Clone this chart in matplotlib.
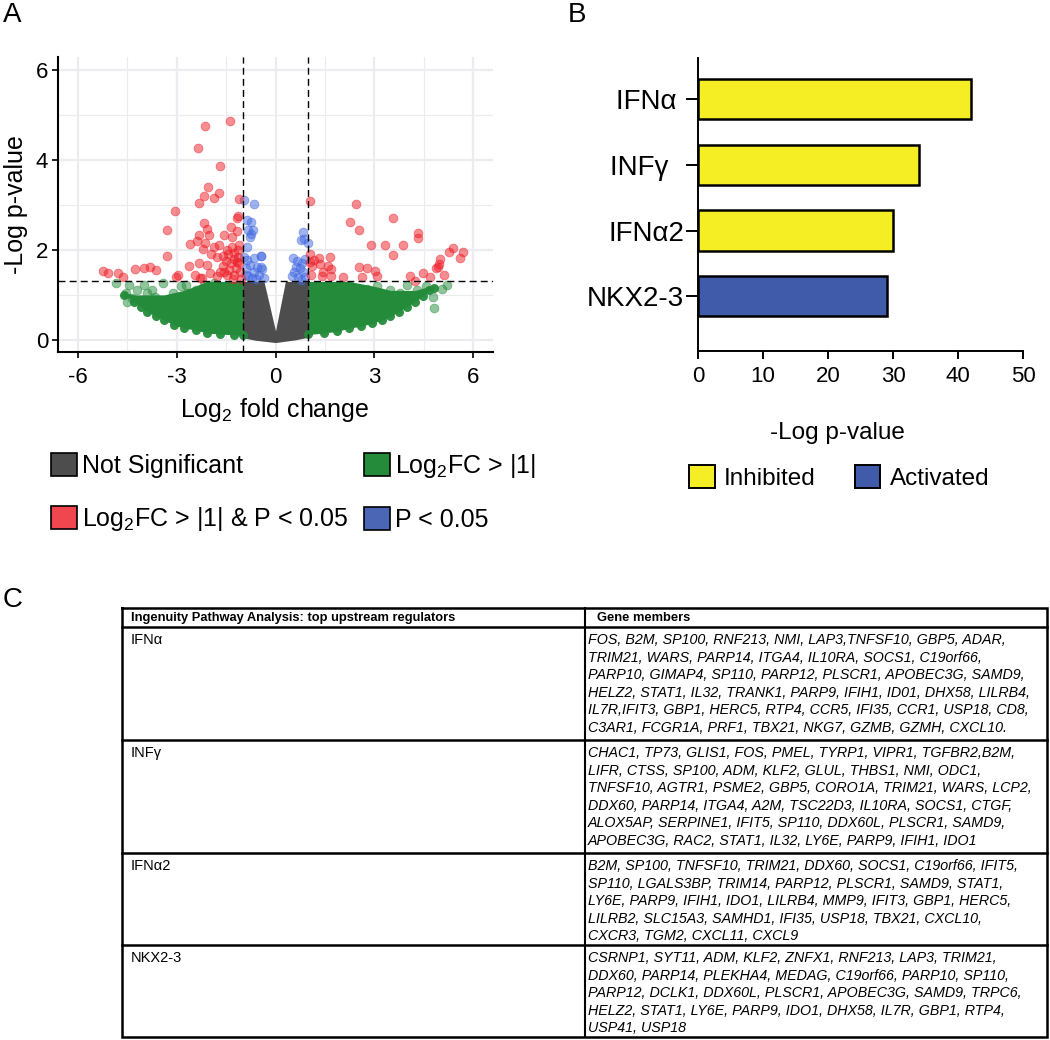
import numpy as np
import matplotlib.pyplot as plt
from matplotlib.patches import Patch

plt.rcParams['font.family'] = ['Liberation Sans', 'DejaVu Sans']
plt.rcParams['mathtext.fontset'] = 'custom'
plt.rcParams['mathtext.rm'] = 'Liberation Sans'
plt.rcParams['axes.unicode_minus'] = False

W, H = 1050, 1040

# ---- panel A: volcano plot ----
red_x = [-1.38, -2.13, -2.34, -1.67, -2.04, -1.70, -2.16, -1.88, -2.33, -1.10, -3.04, -1.15,
         -1.18, -2.17, -2.09, -3.28, -1.36, -2.31, -2.01, -1.55, -1.16, -1.31, -2.38, -2.58,
         -2.14, -1.86, -1.70, -1.10, -1.95, -1.59, -3.29, -2.19, -1.46, -1.26, -1.79, -2.63,
         -2.33, -2.07, -1.60, -1.36, -1.18, -5.23, -5.08, -4.78, -4.63, -4.26, -3.99, -3.82,
         -3.62, -2.97, -3.01, -2.45, -2.29, -2.00, -1.78, -1.46, -1.26, -1.08, -2.23, -1.67,
         -1.14, -1.31, -1.05, -1.20, -1.40, -1.10, -1.25, -1.45, -1.50, -1.15, -1.30, -1.55,
         1.04, 2.43, 2.25, 2.54, 3.58, 2.89, 3.32, 3.86, 3.58, 4.31, 4.31, 5.40, 5.27, 5.68,
         5.59, 5.00, 4.97, 4.94, 4.87, 5.12, 4.70, 4.49, 4.08, 4.23, 1.04, 1.04, 1.11, 1.31,
         1.36, 1.65, 1.60, 1.67, 1.44, 1.41, 1.69, 1.08, 2.05, 2.54, 2.79, 3.02, 3.08, 2.61,
         1.16]
red_y = [4.87, 4.76, 4.27, 3.86, 3.40, 3.26, 3.20, 3.16, 3.04, 3.13, 2.87, 2.76,
         2.70, 2.59, 2.46, 2.44, 2.52, 2.33, 2.33, 2.33, 2.41, 2.28, 2.19, 2.13,
         2.15, 2.07, 2.11, 2.11, 1.91, 1.87, 1.87, 2.01, 2.00, 1.93, 1.84, 1.65,
         1.70, 1.67, 1.65, 1.70, 1.74, 1.54, 1.48, 1.48, 1.39, 1.57, 1.59, 1.61,
         1.55, 1.44, 1.39, 1.44, 1.37, 1.48, 1.41, 1.44, 1.44, 1.52, 1.37, 1.52,
         1.85, 2.07, 1.35, 1.60, 1.55, 1.70, 1.80, 1.90, 1.75, 2.00, 1.35, 1.50,
         3.08, 3.02, 2.63, 2.45, 2.70, 2.10, 2.10, 2.10, 1.89, 2.37, 2.27, 2.04, 1.96, 1.96,
         1.82, 1.79, 1.69, 1.63, 1.59, 1.44, 1.39, 1.48, 1.42, 1.31, 1.91, 1.74, 1.64, 1.83,
         1.68, 1.85, 1.65, 1.57, 1.52, 1.42, 1.42, 1.44, 1.39, 1.63, 1.59, 1.54, 1.41, 1.39,
         1.78]

blue_x = [-0.96, -0.64, -0.86, -0.74, -0.84, -0.74, -0.78, -0.69, -0.86, -0.45, -0.66,
          -0.86, -0.78, -0.56, -0.40, -0.91, -0.66, -0.51, -0.84, -0.35, -0.71, -0.96,
          -0.45, -0.45, -0.60, -0.90,
          0.84, 0.78, 0.86, 0.99, 0.54, 0.66, 0.81, 0.88, 0.61, 0.74, 0.56, 0.84,
          0.51, 0.68, 0.91, 0.76]
blue_y = [3.11, 3.01, 2.67, 2.61, 2.44, 2.36, 2.28, 2.44, 2.07, 1.87, 1.81,
          1.78, 1.67, 1.63, 1.57, 1.59, 1.52, 1.44, 1.41, 1.37, 1.37, 1.85,
          1.87, 1.63, 1.35, 1.45,
          2.39, 2.21, 2.24, 2.16, 1.81, 1.76, 1.70, 1.79, 1.63, 1.59, 1.52, 1.52,
          1.41, 1.39, 1.39, 1.33]

# sparse green points on the fringe of the clouds
green_x = [-4.85, -4.55, -4.46, -4.52, -4.34, -4.19, -3.99, -3.89, -3.74, -3.67, -3.41,
           -3.10, -2.88, -2.73, -2.68, -2.42, -2.17, -1.87, -2.88, -3.28, -3.59,
           5.20, 5.05, 4.82, 4.77, 4.58, 4.29, 3.99, 3.77, 3.48, 3.08, 2.78, 2.58, 2.27, 1.97]
green_y = [1.26, 1.04, 1.21, 0.85, 0.93, 1.11, 1.22, 1.04, 1.11, 0.96, 1.26,
           1.05, 1.19, 1.22, 1.04, 1.11, 1.22, 1.26, 0.85, 0.81, 0.85,
           1.22, 1.13, 0.70, 0.96, 1.19, 1.11, 1.22, 1.04, 1.11, 1.19, 1.13, 1.04, 1.19, 1.22]

# dense green clouds: outline (lower / upper edge)
green_left_x = [-4.60, -4.29, -4.09, -3.89, -3.64, -3.38, -3.08, -2.78, -2.42, -2.07, -1.67, -1.26, -1.00]
green_left_lo = [1.00, 0.85, 0.74, 0.63, 0.52, 0.44, 0.33, 0.26, 0.22, 0.15, 0.13, 0.11, 0.11]
green_left_hi = [1.05, 1.00, 1.00, 1.00, 1.00, 1.00, 1.05, 1.10, 1.20, 1.30, 1.30, 1.30, 1.30]
green_right_x = [1.00, 1.46, 1.87, 2.22, 2.58, 2.93, 3.23, 3.48, 3.74, 3.99, 4.24, 4.49, 4.65, 4.80]
green_right_lo = [0.12, 0.15, 0.19, 0.26, 0.30, 0.37, 0.44, 0.52, 0.63, 0.74, 0.85, 0.98, 1.10, 1.15]
green_right_hi = [1.30, 1.30, 1.30, 1.30, 1.25, 1.20, 1.15, 1.10, 1.10, 1.10, 1.10, 1.15, 1.18, 1.18]

# not significant block
grey_x = [-1.00, -0.60, -0.35, 0.00, 0.30, 0.60, 1.00]
grey_lo = [0.05, -0.01, -0.03, -0.06, -0.03, 0.00, 0.06]
grey_hi = [1.30, 1.30, 1.30, 0.20, 1.30, 1.30, 1.30]

fc_cut = 1.0
p_cut = 1.3

# ---- panel B ----
regulators = ['IFNα', 'INFγ', 'IFNα2', 'NKX2-3']
neg_log_p = [42, 34, 30, 29]
state = ['Inhibited', 'Inhibited', 'Inhibited', 'Activated']

# ---- panel C ----
table_header = ['Ingenuity Pathway Analysis: top upstream regulators', 'Gene members']
table_regulators = ['IFNα', 'INFγ', 'IFNα2', 'NKX2-3']
genes_ifna = ['FOS, B2M, SP100, RNF213, NMI, LAP3,TNFSF10, GBP5, ADAR,',
              'TRIM21, WARS, PARP14, ITGA4, IL10RA, SOCS1, C19orf66,',
              'PARP10, GIMAP4, SP110, PARP12, PLSCR1, APOBEC3G, SAMD9,',
              'HELZ2, STAT1, IL32, TRANK1, PARP9, IFIH1, ID01, DHX58, LILRB4,',
              'IL7R,IFIT3, GBP1, HERC5, RTP4, CCR5, IFI35, CCR1, USP18, CD8,',
              'C3AR1, FCGR1A, PRF1, TBX21, NKG7, GZMB, GZMH, CXCL10.']
genes_infg = ['CHAC1, TP73, GLIS1, FOS, PMEL, TYRP1, VIPR1, TGFBR2,B2M,',
              'LIFR, CTSS, SP100, ADM, KLF2, GLUL, THBS1, NMI, ODC1,',
              'TNFSF10, AGTR1, PSME2, GBP5, CORO1A, TRIM21, WARS, LCP2,',
              'DDX60, PARP14, ITGA4, A2M, TSC22D3, IL10RA, SOCS1, CTGF,',
              'ALOX5AP, SERPINE1, IFIT5, SP110, DDX60L, PLSCR1, SAMD9,',
              'APOBEC3G, RAC2, STAT1, IL32, LY6E, PARP9, IFIH1, IDO1']
genes_ifna2 = ['B2M, SP100, TNFSF10, TRIM21, DDX60, SOCS1, C19orf66, IFIT5,',
               'SP110, LGALS3BP, TRIM14, PARP12, PLSCR1, SAMD9, STAT1,',
               'LY6E, PARP9, IFIH1, IDO1, LILRB4, MMP9, IFIT3, GBP1, HERC5,',
               'LILRB2, SLC15A3, SAMHD1, IFI35, USP18, TBX21, CXCL10,',
               'CXCR3, TGM2, CXCL11, CXCL9']
genes_nkx = ['CSRNP1, SYT11, ADM, KLF2, ZNFX1, RNF213, LAP3, TRIM21,',
             'DDX60, PARP14, PLEKHA4, MEDAG, C19orf66, PARP10, SP110,',
             'PARP12, DCLK1, DDX60L, PLSCR1, APOBEC3G, SAMD9, TRPC6,',
             'HELZ2, STAT1, LY6E, PARP9, IDO1, DHX58, IL7R, GBP1, RTP4,',
             'USP41, USP18']
table_genes = [genes_ifna, genes_infg, genes_ifna2, genes_nkx]


def box(l, t, r, b):
    # pixel box (left, top, right, bottom) -> figure fractions
    return [l / W, 1 - b / H, (r - l) / W, (b - t) / H]


fig = plt.figure(figsize=(W / 100, H / 100), dpi=100)

# ================= A =================
ax = fig.add_axes(box(58, 57, 493, 352))
C_GREY, C_GREEN, C_BLUE, C_RED = '#4D4D4D', '#238B3A', '#4169E1', '#EE1C25'

ax.fill_between(grey_x, grey_lo, grey_hi, color=C_GREY, lw=0, zorder=2)
ax.fill_between(green_left_x, green_left_lo, green_left_hi, color=C_GREEN, lw=0, zorder=2)
ax.fill_between(green_right_x, green_right_lo, green_right_hi, color=C_GREEN, lw=0, zorder=2)
ax.scatter(green_left_x + green_right_x, green_left_lo + green_right_lo, s=42,
           color=C_GREEN, alpha=0.95, lw=0, zorder=3)
ax.scatter(green_x, green_y, s=40, facecolor=C_GREEN, edgecolor=C_GREEN, alpha=0.5, lw=0.6, zorder=3)
ax.scatter(blue_x, blue_y, s=40, facecolor=C_BLUE, edgecolor=C_BLUE, alpha=0.5, lw=0.6, zorder=4)
ax.scatter(red_x, red_y, s=40, facecolor=C_RED, edgecolor=C_RED, alpha=0.5, lw=0.6, zorder=4)

for v in (-fc_cut, fc_cut):
    ax.axvline(v, color='black', lw=1.0, dashes=(5, 3), zorder=5)
ax.axhline(p_cut, color='black', lw=1.0, dashes=(5, 3), zorder=5)

ax.set_xlim(-6.6, 6.6)
ax.set_ylim(-0.27, 6.29)
ax.set_xticks([-6, -3, 0, 3, 6])
ax.set_xticks([-4.5, -1.5, 1.5, 4.5], minor=True)
ax.set_yticks([0, 2, 4, 6])
ax.set_yticks([1, 3, 5], minor=True)
ax.grid(which='major', color='#EBEBF0', lw=1.6)
ax.grid(which='minor', color='#EBEBF0', lw=0.8)
ax.set_axisbelow(True)
ax.tick_params(which='minor', length=0)
ax.tick_params(axis='x', labelsize=16, length=4, width=1.2, pad=7)
ax.tick_params(axis='y', labelsize=16, length=4, width=1.2, pad=3)
for s in ('top', 'right'):
    ax.spines[s].set_visible(False)
for s in ('left', 'bottom'):
    ax.spines[s].set_linewidth(1.5)
fig.text(275 / W, 1 - 410 / H, 'Log$_2$ fold change', fontsize=18, ha='center', va='center')
fig.text(16 / W, 1 - 205 / H, '-Log p-value', fontsize=18, ha='center', va='center', rotation=90)

handles_a = [Patch(facecolor=C_GREY, edgecolor='black', lw=1.2),
             Patch(facecolor='#F04650', edgecolor='black', lw=1.2),
             Patch(facecolor=C_GREEN, edgecolor='black', lw=1.2),
             Patch(facecolor='#4A66B4', edgecolor='black', lw=1.2)]
labels_a = ['Not Significant', 'Log$_2$FC > |1| & P < 0.05', 'Log$_2$FC > |1|', 'P < 0.05']
fig.legend(handles_a, labels_a, ncol=2, loc='upper left', bbox_to_anchor=(51 / W, 1 - 452 / H),
           frameon=False, fontsize=18, handlelength=1.05, handleheight=1.05, handletextpad=0.2,
           columnspacing=0.6, labelspacing=1.08, borderpad=0, borderaxespad=0)

# ================= B =================
axb = fig.add_axes(box(698, 58, 1023, 351))
bar_colors = {'Inhibited': '#F5EE24', 'Activated': '#3F5BAA'}
ypos = np.arange(len(regulators))
axb.barh(ypos, neg_log_p, height=0.61, color=[bar_colors[s] for s in state],
         edgecolor='black', linewidth=1.8)
axb.set_ylim(3.83, -0.62)
axb.set_xlim(0, 50)
axb.set_xticks(np.arange(0, 51, 10))
axb.set_yticks(ypos)
pad_spaces = [1, 2, 0, 0]
axb.set_yticklabels([r + ' ' * n for r, n in zip(regulators, pad_spaces)], fontsize=20)
axb.tick_params(axis='y', length=9, width=1.4, pad=1)
axb.tick_params(axis='x', labelsize=16, length=5.5, width=1.4, pad=5)
for s in ('top', 'right'):
    axb.spines[s].set_visible(False)
for s in ('left', 'bottom'):
    axb.spines[s].set_linewidth(1.4)
axb.spines['bottom'].set_bounds(0, 50)
fig.text(837 / W, 1 - 433 / H, '-Log p-value', fontsize=17.5, ha='center', va='center')

handles_b = [Patch(facecolor=bar_colors[k], edgecolor='black', lw=1.4) for k in ('Inhibited', 'Activated')]
fig.legend(handles_b, ['Inhibited', 'Activated'], ncol=2, loc='upper left',
           bbox_to_anchor=(689 / W, 1 - 465 / H), frameon=False, fontsize=17.5,
           handlelength=1.05, handleheight=1.05, handletextpad=0.4, columnspacing=1.6,
           borderpad=0, borderaxespad=0)

# ================= C =================
tab = fig.add_axes([0, 0, 1, 1], zorder=-1)
tab.set_xlim(0, W)
tab.set_ylim(H, 0)
tab.axis('off')

x_left, x_mid, x_right = 122, 585, 1047
row_edges = [608, 627, 740, 853, 945, 1037]
line_h = 17.6

tab.plot([x_left, x_right, x_right, x_left, x_left],
         [row_edges[0], row_edges[0], row_edges[-1], row_edges[-1], row_edges[0]],
         color='black', lw=1.8, solid_joinstyle='miter')
for yv in row_edges[1:-1]:
    tab.plot([x_left, x_right], [yv, yv], color='black', lw=1.8)
tab.plot([x_mid, x_mid], [row_edges[0], row_edges[-1]], color='black', lw=1.5)

hy = (row_edges[0] + row_edges[1]) / 2 + 0.5
tab.text(x_left + 9, hy, table_header[0], fontsize=9.3, fontweight='bold', va='center')
tab.text(x_mid + 12, hy, table_header[1], fontsize=9.3, fontweight='bold', va='center')

for i, (reg, lines) in enumerate(zip(table_regulators, table_genes)):
    top = row_edges[i + 1]
    tab.text(x_left + 9, top + 13, reg, fontsize=10.5, va='center')
    for j, ln in enumerate(lines):
        tab.text(x_mid + 3, top + 13 + j * line_h, ln, fontsize=10.3, style='italic', va='center')

# panel letters
fig.text(3 / W, 1 - 15 / H, 'A', fontsize=20, va='center')
fig.text(568 / W, 1 - 15 / H, 'B', fontsize=20, va='center')
fig.text(3 / W, 1 - 600 / H, 'C', fontsize=20, va='center')

fig.savefig('out.png', dpi=100)
